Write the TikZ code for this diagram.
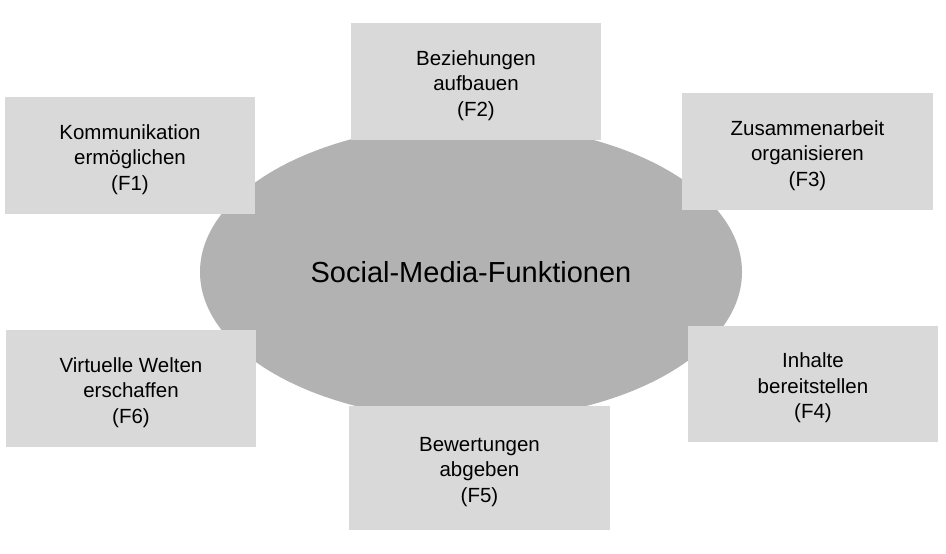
\documentclass[tikz,border=0pt]{standalone}
\usepackage{fontspec}
\setmainfont{Liberation Sans}
\usetikzlibrary{shapes.geometric}
\definecolor{boxgray}{RGB}{217,217,217}
\definecolor{ellgray}{RGB}{178,178,178}
\tikzset{
  fbox/.style={rectangle, fill=boxgray, draw=none, inner sep=0pt,
    minimum width=250pt, minimum height=117pt},
  ftext/.style={align=center, inner sep=0pt, yshift=-4pt,
    font=\fontsize{20.5}{25.5}\selectfont},
  hub/.style={ellipse, fill=ellgray, draw=none, inner sep=0pt,
    minimum width=542pt, minimum height=296pt,
    font=\fontsize{29}{34}\selectfont}
}
\begin{document}
\begin{tikzpicture}[x=1pt,y=-1pt]
\useasboundingbox[fill=white] (0,0) rectangle (946,554);
\node[hub] (hub) at (471,272) {Social-Media-Funktionen};
\node[fbox, label={[ftext]center:{Kommunikation\\ermöglichen\\(F1)}}] (f1) at (130,155.5) {};
\node[fbox, label={[ftext]center:{Beziehungen\\aufbauen\\(F2)}}] (f2) at (476,81.5) {};
\node[fbox, minimum width=251pt, label={[ftext]center:{Zusammenarbeit\\organisieren\\(F3)}}] (f3) at (807.5,151.5) {};
\node[fbox, minimum height=116pt, label={[ftext]center:{Inhalte\\bereitstellen\\(F4)}}] (f4) at (813,384) {};
\node[fbox, minimum width=261pt, minimum height=124pt, label={[ftext]center:{Bewertungen\\abgeben\\(F5)}}] (f5) at (479.5,468) {};
\node[fbox, label={[ftext]center:{Virtuelle Welten\\erschaffen\\(F6)}}] (f6) at (131,388.5) {};
\end{tikzpicture}
\end{document}
